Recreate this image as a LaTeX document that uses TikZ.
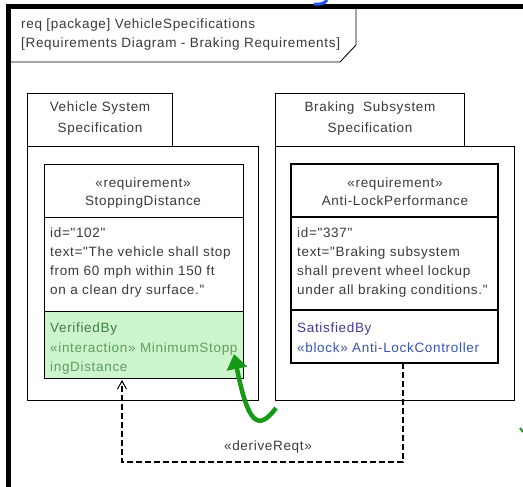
\documentclass[tikz,border=0pt]{standalone}
\usepackage{fontspec}
\setmainfont{Liberation Sans}[LetterSpace=5, Ligatures=TeXOff]
\usetikzlibrary{arrows.meta}
\definecolor{txt}{HTML}{3A3A3A}
\definecolor{vfill}{HTML}{CDF5CD}
\definecolor{vdark}{HTML}{3F7F3F}
\definecolor{vlight}{HTML}{5E9E5E}
\definecolor{sdark}{HTML}{4A3A92}
\definecolor{sblue}{HTML}{3A55B0}
\definecolor{arrgreen}{HTML}{169A16}
\definecolor{markblue}{HTML}{2255EE}
\begin{document}
\begin{tikzpicture}[x=1pt,y=-1pt,
  font=\fontsize{13.5}{19.3}\selectfont, text=txt,
  box/.style={draw, line width=0.9pt, anchor=north west, inner sep=0, outer sep=0},
  line/.style={anchor=base west, inner sep=0},
  cline/.style={anchor=base, inner sep=0},
  dep/.style={line width=1.3pt, dash pattern=on 6pt off 3pt},
]
\useasboundingbox (0,0) rectangle (523,487);
\fill[white] (0,0) rectangle (523,487);

% outer frame
\draw[line width=5pt] (8.5,487) -- (8.5,6.5) -- (523,6.5);
\draw[line width=0.9pt] (356,9) -- (356,45) -- (340,62) -- (11,62);
\node[line] (h1) at (21,29) {req [package] VehicleSpecifications};
\node[line] (h2) at (21,48) {[Requirements Diagram - Braking Requirements]};

% left package
\node[box, minimum width=145pt, minimum height=53pt] (ltab) at (27,93) {};
\node[box, minimum width=231pt, minimum height=254pt] (lbody) at (27,146) {};
\node[cline] (lt1) at (100,112) {Vehicle System};
\node[cline] (lt2) at (100,132) {Specification};

% left requirement
\fill[vfill] (44,311) rectangle (243,378);
\node[box, minimum width=199pt, minimum height=214pt] (lreq) at (44,164) {};
\draw[line width=0.9pt] (44,217) -- (243,217);
\draw[line width=0.9pt] (44,311) -- (243,311);
\node[cline] (ls) at (143,188) {«requirement»};
\node[cline] (ln) at (143,205) {StoppingDistance};
\node[line] (l1) at (50,237) {id="102"};
\node[line] (l2) at (50,256) {text="The vehicle shall stop};
\node[line] (l3) at (50,275) {from 60 mph within 150 ft};
\node[line] (l4) at (50,294) {on a clean dry surface."};
\node[line, text=vdark] (l5) at (50,332) {VerifiedBy};
\node[line, text=vlight] (l6) at (50,352) {«interaction» MinimumStopp};
\node[line, text=vlight] (l7) at (50,371) {ingDistance};

% right package
\node[box, minimum width=189pt, minimum height=53pt] (rtab) at (275,93) {};
\node[box, minimum width=239pt, minimum height=254pt] (rbody) at (275,146) {};
\node[cline] (rt1) at (370,112) {Braking\ \ Subsystem};
\node[cline] (rt2) at (370,132) {Specification};

% right requirement
\node[box, line width=1.8pt, minimum width=207pt, minimum height=199pt] (rreq) at (291,164) {};
\draw[line width=1.5pt] (291,217) -- (498,217);
\draw[line width=1.5pt] (291,310) -- (498,310);
\node[cline] (rs) at (395,188) {«requirement»};
\node[cline] (rn) at (395,205) {Anti-LockPerformance};
\node[line] (r1) at (297,237) {id="337"};
\node[line] (r2) at (297,256) {text="Braking subsystem};
\node[line] (r3) at (297,275) {shall prevent wheel lockup};
\node[line] (r4) at (297,294) {under all braking conditions."};
\node[line, text=sdark] (r5) at (297,332) {SatisfiedBy};
\node[line, text=sblue] (r6) at (297,352) {«block» Anti-LockController};

% deriveReqt dependency
\coordinate (dr) at (403,462);
\draw[dep, -{Straight Barb[length=8pt,width=9pt,line width=1pt]}]
  (rreq.south -| dr) -- (dr) -| ([yshift=-2pt]lreq.south -| 122,0);
\node[cline] (dlab) at (268,450) {«deriveReqt»};

% green annotation arrow
\coordinate (ga) at (276,408);
\coordinate (gb) at (234,354);
\draw[arrgreen, line width=4.5pt, -{Triangle[length=15pt,width=20pt]}]
  (ga) .. controls (258,432) and (248,424) .. (gb);

% screenshot remnants
\draw[markblue, line width=3pt] (314,4) .. controls (321,5) and (325,3) .. (327,0);
\draw[arrgreen, line width=2pt] (520,428) -- (523,432);
\end{tikzpicture}
\end{document}
